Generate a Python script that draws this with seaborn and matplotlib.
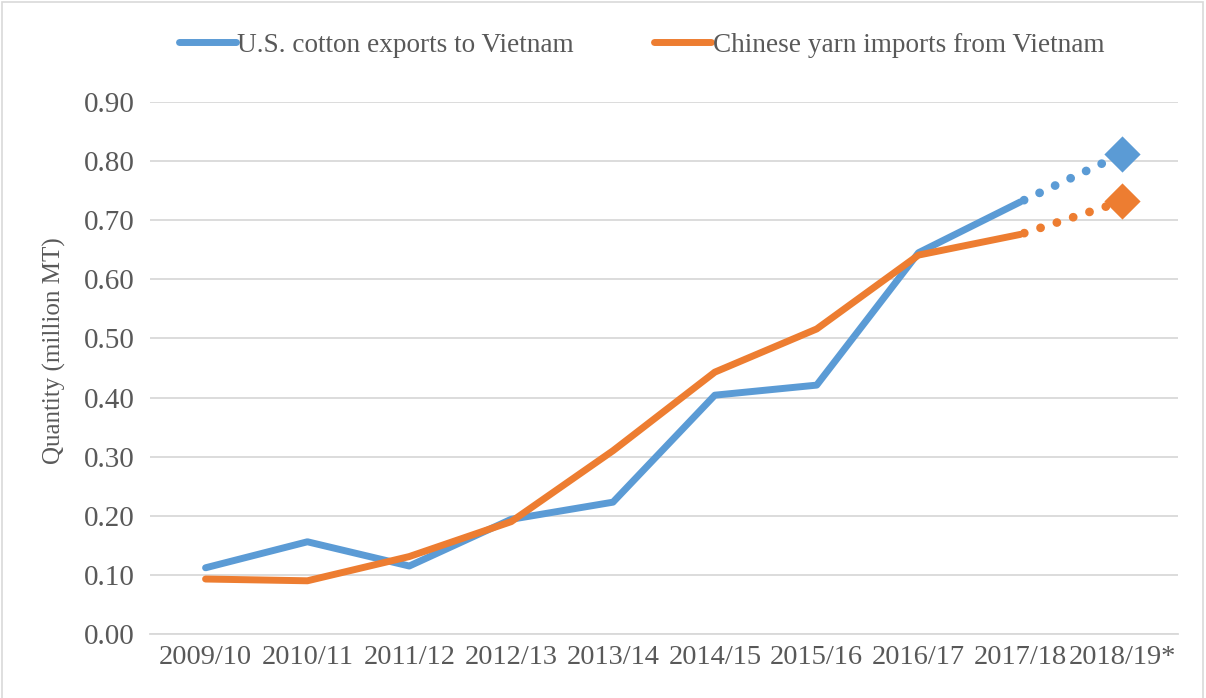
import matplotlib.pyplot as plt
import pandas as pd
import seaborn as sns
from matplotlib.patches import Rectangle

seasons = ["2009/10", "2010/11", "2011/12", "2012/13", "2013/14",
           "2014/15", "2015/16", "2016/17", "2017/18", "2018/19*"]
us_exports = [0.112, 0.156, 0.115, 0.194, 0.223, 0.404, 0.421, 0.645, 0.731, 0.812]
cn_imports = [0.093, 0.090, 0.131, 0.190, 0.310, 0.443, 0.516, 0.641, 0.676, 0.732]

us_label = "U.S. cotton exports to Vietnam"
cn_label = "Chinese yarn imports from Vietnam"
blue = "#5B9BD5"
orange = "#ED7D31"

sns.set_theme(style="white")
plt.rcParams["font.family"] = ["Liberation Serif", "DejaVu Serif"]

df = pd.DataFrame({"pos": range(len(seasons)), "us": us_exports, "cn": cn_imports})
actual = df.iloc[:-1]
forecast = df.iloc[-2:]
last = df.iloc[-1:]

fig = plt.figure(figsize=(12.06, 6.98), dpi=100)
ax = fig.add_axes([0.124, 0.0917, 0.853, 0.7622])

for col, color, label in [("us", blue, us_label), ("cn", orange, cn_label)]:
    sns.lineplot(data=actual, x="pos", y=col, color=color, linewidth=5,
                 solid_capstyle="round", label=label, ax=ax)
    # projected season: dotted segment plus diamond
    sns.lineplot(data=forecast, x="pos", y=col, color=color, linewidth=6.3,
                 linestyle=(1.5, (0.01, 1.95)), dash_capstyle="round", ax=ax,
                 legend=False)
    sns.scatterplot(data=last, x="pos", y=col, color=color, marker="D", s=340,
                    edgecolor=color, linewidth=0, ax=ax, legend=False, zorder=5)

ax.set_xlim(-0.55, len(seasons) - 0.45)
ax.set_ylim(0, 0.9)
ax.set_yticks([i / 10 for i in range(10)])
ax.set_yticklabels([f"{i / 10:.2f}" for i in range(10)])
ax.set_xticks(range(len(seasons)))
ax.set_xticklabels(seasons)
ax.yaxis.grid(True, color="#D9D9D9", linewidth=1.3)
ax.set_axisbelow(True)
for s in ["top", "right", "left"]:
    ax.spines[s].set_visible(False)
ax.spines["bottom"].set_color("#D9D9D9")
ax.spines["bottom"].set_linewidth(1.3)
ax.tick_params(axis="x", length=0, labelsize=20.5, colors="#595959", pad=8)
ax.tick_params(axis="y", length=0, labelsize=21, colors="#595959", pad=11)
ax.set_xlabel("")
ax.set_ylabel("Quantity (million MT)", fontsize=18, color="#595959")
ax.yaxis.set_label_coords(-0.081, 0.532)

ax.legend(loc="center", bbox_to_anchor=(0.478, 1.107), ncol=2, frameon=False,
          fontsize=19.6, handlelength=2.1, handletextpad=0.05, columnspacing=2.95,
          labelcolor="#595959")

fig.patches.append(Rectangle((2 / 1206, -0.01), 1201 / 1206, 1 - 2 / 698 + 0.01,
                             transform=fig.transFigure, fill=False,
                             edgecolor="#D9D9D9", linewidth=1.2))

fig.savefig("out.png", dpi=100)
